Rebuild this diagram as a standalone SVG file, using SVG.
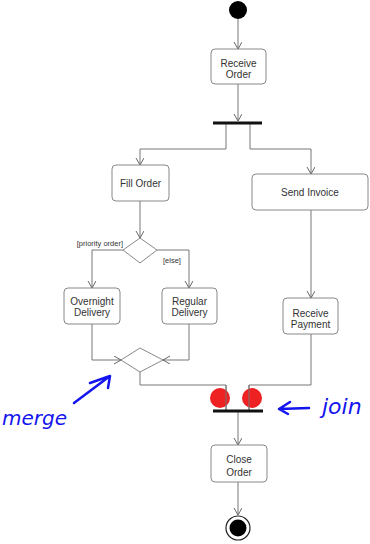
<svg xmlns="http://www.w3.org/2000/svg" width="370" height="544" viewBox="0 0 370 544">
<defs>
<marker id="arr" markerUnits="userSpaceOnUse" markerWidth="10" markerHeight="10" refX="7" refY="4" orient="auto">
<path d="M0,0 L7,4 L0,8" fill="none" stroke="#666" stroke-width="1"/>
</marker>
<style>
.box{fill:#fff;stroke:#888;stroke-width:1}
.t{font-family:"Liberation Sans",Arial,sans-serif;font-size:10px;fill:#333;text-anchor:middle}
.g{font-family:"Liberation Sans",Arial,sans-serif;font-size:7.5px;fill:#333}
.c{fill:none;stroke:#777;stroke-width:1}
.a{marker-end:url(#arr)}
.hw{font-family:"DejaVu Sans",sans-serif;font-style:italic;fill:#1414ee}
.hl{fill:none;stroke:#1414ee;stroke-width:2.5;stroke-linecap:round;stroke-linejoin:round}
</style>
</defs>
<rect width="370" height="544" fill="#fff"/>

<g id="connectors">
<path class="c a" d="M238,19 V49"/>
<path class="c a" d="M238,84 V121"/>
<path class="c a" d="M226,124 V149 H140 V165"/>
<path class="c a" d="M250,124 V149 H311 V174"/>
<path class="c a" d="M140,201 V238"/>
<path class="c a" d="M123,250 H92 V288"/>
<path class="c a" d="M157,250 H189 V288"/>
<path class="c a" d="M92,324 V360 H121"/>
<path class="c a" d="M189,324 V360 H163"/>
<path class="c a" d="M311,210 V298"/>
<path class="c" d="M140,372 V385 H226 V410"/>
<path class="c" d="M311,334 V385 H249 V410"/>
<path class="c a" d="M238,412 V445"/>
<path class="c a" d="M238,482 V515"/>
</g>

<g id="start"><circle cx="238" cy="10" r="9" fill="#000"/></g>

<g id="receive-order">
<rect class="box" x="211" y="49" width="55" height="35" rx="4"/>
<text class="t" x="238.5" y="67">Receive</text>
<text class="t" x="238.5" y="78">Order</text>
</g>

<g id="fork"><rect x="213" y="121.5" width="49" height="3" fill="#111"/></g>

<g id="fill-order">
<rect class="box" x="112" y="165" width="57" height="36" rx="4"/>
<text class="t" x="140.5" y="187">Fill Order</text>
</g>

<g id="send-invoice">
<rect class="box" x="252" y="174" width="116" height="36" rx="4"/>
<text class="t" x="310" y="196">Send Invoice</text>
</g>

<g id="decision">
<path class="box" d="M140,238 L157,250 L140,263 L123,250 Z"/>
<text class="g" x="123" y="245.5" text-anchor="end">[priority order]</text>
<text class="g" x="163" y="263">[else]</text>
</g>

<g id="overnight-delivery">
<rect class="box" x="64" y="288" width="56" height="36" rx="4"/>
<text class="t" x="92" y="305">Overnight</text>
<text class="t" x="92" y="316">Delivery</text>
</g>

<g id="regular-delivery">
<rect class="box" x="162" y="288" width="55" height="36" rx="4"/>
<text class="t" x="189.5" y="305">Regular</text>
<text class="t" x="189.5" y="316">Delivery</text>
</g>

<g id="receive-payment">
<rect class="box" x="283" y="298" width="55" height="36" rx="4"/>
<text class="t" x="310.5" y="317">Receive</text>
<text class="t" x="310.5" y="328">Payment</text>
</g>

<g id="merge">
<path class="box" d="M140,348 L163,360 L140,372 L121,360 Z"/>
</g>

<g id="join">
<circle cx="220" cy="398" r="10" fill="#ee2222"/>
<circle cx="252" cy="398" r="10" fill="#ee2222"/>
<path class="c" d="M226,385 V410 M249,385 V410"/>
<rect x="213" y="409.5" width="50" height="3" fill="#111"/>
</g>

<g id="close-order">
<rect class="box" x="211" y="445" width="56" height="37" rx="4"/>
<text class="t" x="239" y="463">Close</text>
<text class="t" x="239" y="476">Order</text>
</g>

<g id="end">
<circle cx="238" cy="528" r="12" fill="#fff" stroke="#222" stroke-width="1.2"/>
<circle cx="238" cy="528" r="8.5" fill="#000"/>
</g>

<g id="annotations">
<text class="hw" x="2" y="425" font-size="20">merge</text>
<path class="hl" d="M74,403 L110,376 M90,383 L110,376 L108,388"/>
<text class="hw" x="322" y="414" font-size="22">join</text>
<path class="hl" d="M309,408 L279,409 M290,402 L279,409 L288,414"/>
</g>
</svg>
